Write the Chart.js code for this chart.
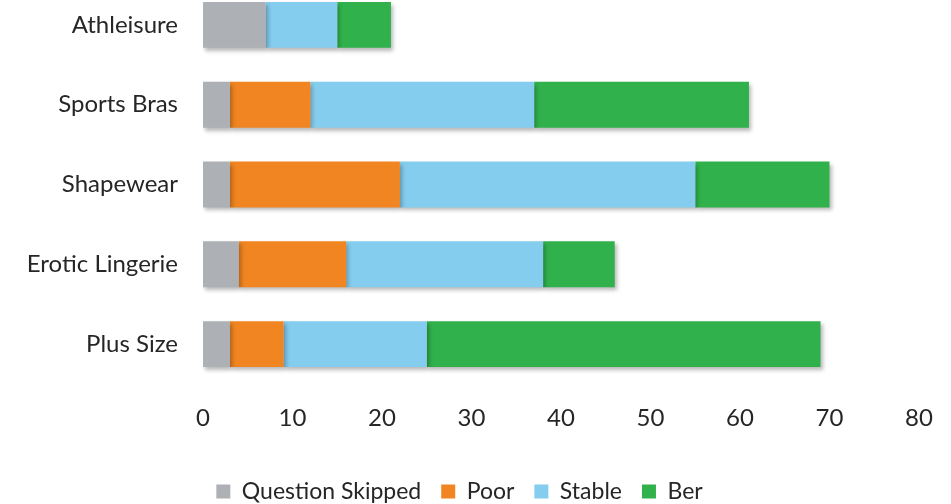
<!DOCTYPE html>
<html>
<head>
<meta charset="utf-8">
<script src="https://cdn.jsdelivr.net/npm/chart.js@4"></script>
<style>
  html, body { margin: 0; padding: 0; background: #ffffff; }
  #wrap { width: 951px; height: 504px; position: relative; overflow: hidden; }
  #chart { position: absolute; left: 0; top: -15px; }
</style>
</head>
<body>
<div id="wrap"><canvas id="chart" width="951" height="519"></canvas></div>
<script>
// Product categories (top to bottom)
const categories = ["Athleisure", "Sports Bras", "Shapewear", "Erotic Lingerie", "Plus Size"];

// Response counts per category
const questionSkipped = [7, 3, 3, 4, 3];
const poor            = [0, 9, 19, 12, 6];
const stable          = [8, 25, 33, 22, 16];
const better          = [6, 24, 15, 8, 44];

const seriesNames = ["Question Skipped", "Poor", "Stable", "Ber"];
const xTicks = [0, 10, 20, 30, 40, 50, 60, 70, 80];

const FONT = "Lato, 'Open Sans', sans-serif";
const TEXT = "#262626";

// Soft drop shadow under the bars
const barShadow = {
  id: "barShadow",
  beforeDatasetsDraw(chart) {
    const ctx = chart.ctx;
    ctx.save();
    ctx.shadowColor = "rgba(0,0,0,0.28)";
    ctx.shadowBlur = 4;
    ctx.shadowOffsetX = 2;
    ctx.shadowOffsetY = 3;
  },
  afterDatasetsDraw(chart) {
    chart.ctx.restore();
  }
};

const mk = (label, data, color) => ({
  label, data,
  backgroundColor: color,
  borderWidth: 0,
  barPercentage: 0.575,
  categoryPercentage: 1
});

new Chart(document.getElementById("chart"), {
  type: "bar",
  data: {
    labels: categories,
    datasets: [
      mk(seriesNames[0], questionSkipped, "#ADB0B5"),
      mk(seriesNames[1], poor, "#F08521"),
      mk(seriesNames[2], stable, "#84CDEE"),
      mk(seriesNames[3], better, "#30B14C")
    ]
  },
  options: {
    indexAxis: "y",
    responsive: false,
    animation: false,
    layout: { padding: { top: 0, right: 32, left: 0, bottom: -9 } },
    scales: {
      x: {
        stacked: true,
        min: 0, max: 80,
        afterBuildTicks(scale) { scale.ticks = xTicks.map(v => ({ value: v })); },
        afterFit(scale) { scale.height = 76; scale.paddingLeft = 0; scale.paddingRight = 0; },
        grid: { display: false, drawTicks: false },
        border: { display: false },
        ticks: { color: TEXT, font: { family: FONT, size: 24 }, padding: 20 }
      },
      y: {
        stacked: true,
        grid: { display: false, drawTicks: false },
        border: { display: false },
        afterFit(scale) { scale.width = 203; scale.paddingTop = 0; scale.paddingBottom = 0; },
        ticks: { color: TEXT, font: { family: FONT, size: 24 }, padding: 25 }
      }
    },
    plugins: {
      legend: {
        position: "bottom",
        labels: {
          color: TEXT,
          font: { family: FONT, size: 23 },
          boxWidth: 14, boxHeight: 14,
          padding: 20
        }
      },
      tooltip: { enabled: false }
    }
  },
  plugins: [barShadow]
});
</script>
</body>
</html>
